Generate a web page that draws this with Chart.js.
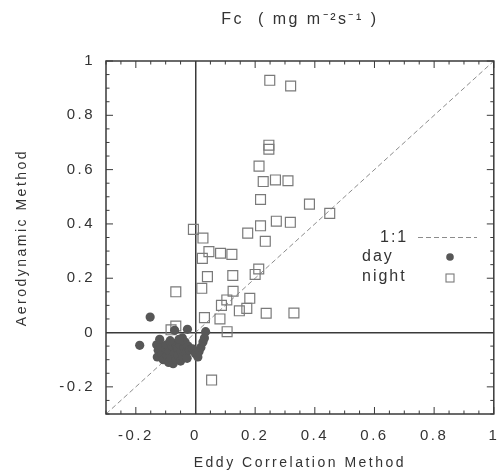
<!DOCTYPE html>
<html>
<head>
<meta charset="utf-8">
<script src="https://cdn.jsdelivr.net/npm/chart.js@4/dist/chart.umd.min.js"></script>
<style>
  html, body { margin: 0; padding: 0; background: #ffffff; }
  canvas { display: block; }
</style>
</head>
<body>
<canvas id="c" width="502" height="476"></canvas>
<script>
// ---- data ----
const dayEC = [-0.187,-0.152,-0.13,-0.125,-0.128,-0.115,-0.112,-0.108,-0.1,-0.098,-0.095,-0.09,-0.088,-0.082,
  -0.078,-0.075,-0.07,-0.068,-0.065,-0.06,-0.058,-0.052,-0.05,-0.048,-0.044,-0.042,-0.038,-0.035,-0.032,-0.028,
  -0.025,-0.027,-0.07,-0.12,-0.02,-0.01,0.0,0.008,0.012,0.018,0.025,0.03,0.034,-0.055,-0.085];
const dayAero = [-0.047,0.057,-0.045,-0.065,-0.09,-0.05,-0.08,-0.1,-0.06,-0.045,-0.085,-0.11,-0.07,-0.095,
  -0.05,-0.115,-0.075,-0.04,-0.1,-0.06,-0.085,-0.045,-0.105,-0.07,-0.02,-0.09,-0.055,-0.035,-0.075,-0.095,
  -0.05,0.012,0.008,-0.025,-0.065,-0.06,-0.078,-0.09,-0.07,-0.055,-0.035,-0.02,0.003,-0.025,-0.03];
const nightEC = [0.249,0.319,0.246,0.246,0.213,0.227,0.268,0.310,0.218,0.271,0.318,0.218,0.175,0.234,
  -0.007,0.025,0.382,0.45,0.045,0.084,0.122,0.023,0.04,0.125,0.212,0.2,0.021,0.126,0.182,0.105,0.087,
  0.147,0.172,0.237,0.33,0.03,0.082,0.106,-0.066,-0.066,-0.082,0.054];
const nightAero = [0.929,0.908,0.69,0.675,0.613,0.556,0.562,0.559,0.49,0.41,0.406,0.393,0.366,0.336,
  0.38,0.348,0.473,0.439,0.298,0.292,0.288,0.273,0.206,0.21,0.234,0.214,0.163,0.152,0.126,0.12,0.10,
  0.08,0.089,0.071,0.072,0.055,0.05,0.003,0.15,0.024,0.01,-0.175];
const oneToOne = [-0.3, 1];
const xTickValues = [-0.2, 0, 0.2, 0.4, 0.6, 0.8, 1];
const yTickValues = [-0.2, 0, 0.2, 0.4, 0.6, 0.8, 1];
const axisMin = -0.3, axisMax = 1;
const MINOR = 0.05, MAJOR = 0.2;

// ---- styling ----
const FONT = "'Liberation Sans', Arial, Helvetica, sans-serif";
const TXT = '#333333';

const toPts = (xs, ys) => xs.map((v, i) => ({ x: v, y: ys[i] }));
const fmt = v => String(Math.round(v * 10) / 10);

const spacing = {
  id: 'spacing',
  beforeDraw(chart) { chart.ctx.letterSpacing = '2.5px'; }
};

const frameTicks = {
  id: 'frameTicks',
  afterDraw(chart) {
    const { ctx, chartArea: a, scales: { x, y } } = chart;
    ctx.save();
    ctx.strokeStyle = '#3a3a3a';
    ctx.lineWidth = 1.5;
    ctx.strokeRect(a.left, a.top, a.right - a.left, a.bottom - a.top);
    ctx.lineWidth = 1;
    const seg = (x1, y1, x2, y2) => { ctx.beginPath(); ctx.moveTo(x1, y1); ctx.lineTo(x2, y2); ctx.stroke(); };
    const isMajor = v => Math.abs(v / MAJOR - Math.round(v / MAJOR)) < 1e-6;
    for (let i = 0; ; i++) {
      const v = x.min + i * MINOR; if (v > x.max + 1e-9) break;
      const len = isMajor(v) ? 7 : 3.5;
      const p = x.getPixelForValue(v);
      seg(p, a.bottom, p, a.bottom - len);
      seg(p, a.top, p, a.top + len);
    }
    for (let i = 0; ; i++) {
      const v = y.min + i * MINOR; if (v > y.max + 1e-9) break;
      const len = isMajor(v) ? 7 : 3.5;
      const p = y.getPixelForValue(v);
      seg(a.left, p, a.left + len, p);
      seg(a.right, p, a.right - len, p);
    }
    ctx.restore();
  }
};

const legendBox = {
  id: 'legendBox',
  afterDraw(chart) {
    const { ctx } = chart;
    const ds = chart.data.datasets;
    const line = ds.find(d => d.key === 'line');
    const day = ds.find(d => d.key === 'day');
    const night = ds.find(d => d.key === 'night');
    ctx.save();
    ctx.letterSpacing = '2px';
    ctx.font = '16px ' + FONT;
    ctx.fillStyle = TXT;
    ctx.textBaseline = 'middle';
    ctx.textAlign = 'left';
    ctx.fillText(line.label, 380, 238);
    ctx.fillText(day.label, 362, 257);
    ctx.fillText(night.label, 362, 277);
    // symbols
    ctx.strokeStyle = line.borderColor;
    ctx.lineWidth = 1;
    ctx.setLineDash(line.borderDash);
    ctx.beginPath(); ctx.moveTo(418, 237.5); ctx.lineTo(477, 237.5); ctx.stroke();
    ctx.setLineDash([]);
    ctx.fillStyle = day.backgroundColor;
    ctx.beginPath(); ctx.arc(450, 257, 3.8, 0, Math.PI * 2); ctx.fill();
    ctx.strokeStyle = night.borderColor;
    ctx.lineWidth = 1.1;
    ctx.strokeRect(446, 274, 8, 8);
    ctx.restore();
  }
};

new Chart(document.getElementById('c'), {
  type: 'scatter',
  data: {
    datasets: [
      { key: 'day', label: 'day', order: 0, data: toPts(dayEC, dayAero),
        pointStyle: 'circle', pointRadius: 4.6, pointBackgroundColor: '#575757',
        backgroundColor: '#575757', pointBorderWidth: 0, borderColor: '#575757' },
      { key: 'night', label: 'night', order: 1, data: toPts(nightEC, nightAero),
        pointStyle: 'rect', pointRadius: 7, pointBackgroundColor: 'rgba(0,0,0,0)',
        pointBorderColor: '#7a7a7a', borderColor: '#7a7a7a', pointBorderWidth: 1.2 },
      { key: 'line', label: '1:1', type: 'line', order: 2, data: toPts(oneToOne, oneToOne),
        showLine: true, pointRadius: 0, borderColor: '#8c8c8c', borderWidth: 1,
        borderDash: [5, 3], fill: false }
    ]
  },
  options: {
    responsive: false,
    animation: false,
    devicePixelRatio: 1,
    layout: { padding: { top: 0, right: 4, bottom: 0, left: 0 } },
    plugins: {
      legend: { display: false },
      tooltip: { enabled: false },
      title: {
        display: true, fullSize: false,
        text: 'Fc  ( mg m\u207B\u00B2s\u207B\u00B9 )',
        color: TXT, font: { family: FONT, size: 16, weight: 'normal' },
        padding: { top: 10, bottom: 31.8 }
      }
    },
    scales: {
      x: {
        type: 'linear', min: axisMin, max: axisMax,
        afterBuildTicks: s => { s.ticks = xTickValues.map(v => ({ value: v })); },
        afterFit: s => { s.height = 62; s.paddingLeft = 0; s.paddingRight = 0; },
        ticks: { callback: v => fmt(v), color: TXT, font: { family: FONT, size: 15 },
                 padding: 13, maxRotation: 0, autoSkip: false },
        grid: { drawTicks: false, lineWidth: 1.5,
                color: c => (c.tick && Math.abs(c.tick.value) < 1e-9) ? '#3a3a3a' : 'rgba(0,0,0,0)' },
        border: { display: false },
        title: { display: true, text: 'Eddy Correlation Method', color: TXT,
                 font: { family: FONT, size: 14 }, padding: { top: 0, bottom: 4.6 } }
      },
      y: {
        type: 'linear', min: axisMin, max: axisMax,
        afterBuildTicks: s => { s.ticks = yTickValues.map(v => ({ value: v })); },
        afterFit: s => { s.width = 106; s.paddingTop = 0; s.paddingBottom = 0; },
        ticks: { callback: v => fmt(v), color: TXT, font: { family: FONT, size: 15 },
                 padding: 11, autoSkip: false },
        grid: { drawTicks: false, lineWidth: 1.5,
                color: c => (c.tick && Math.abs(c.tick.value) < 1e-9) ? '#3a3a3a' : 'rgba(0,0,0,0)' },
        border: { display: false },
        title: { display: true, text: 'Aerodynamic Method', color: TXT,
                 font: { family: FONT, size: 14 }, padding: { top: 13.6, bottom: 0 } }
      }
    }
  },
  plugins: [spacing, frameTicks, legendBox]
});
</script>
</body>
</html>
